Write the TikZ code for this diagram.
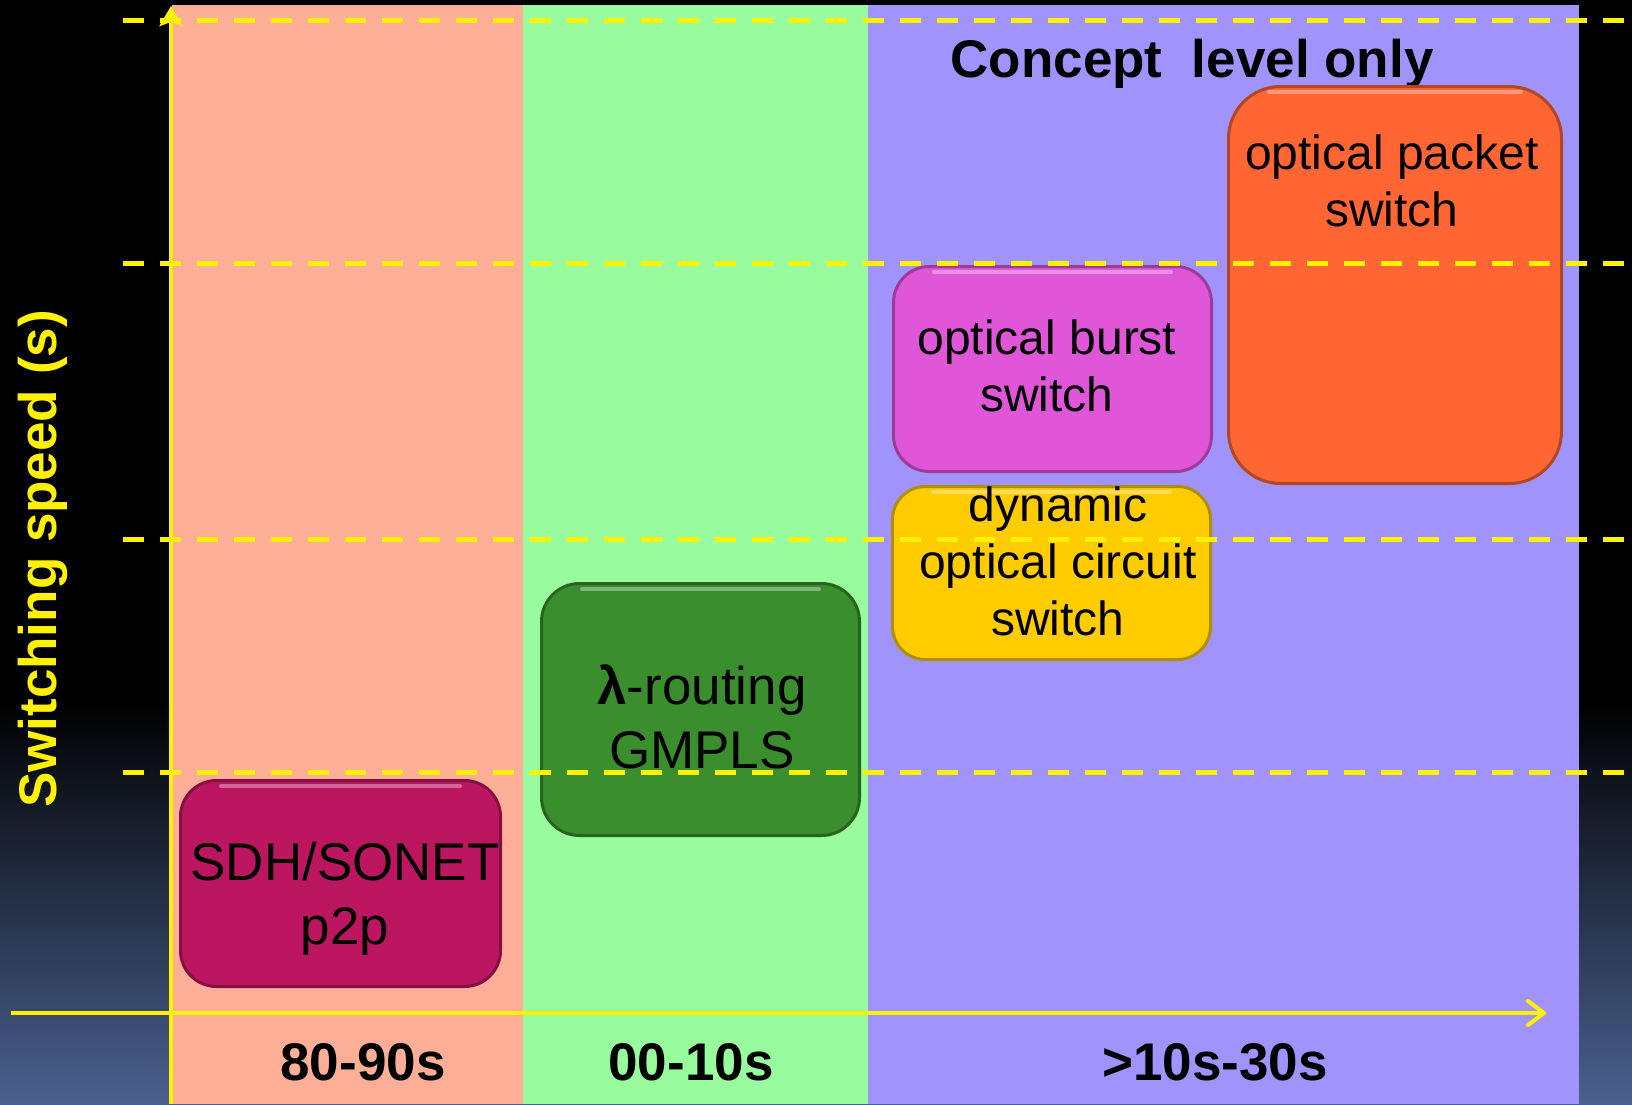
\documentclass[tikz,border=0pt]{standalone}
\usepackage{fontspec}
\setmainfont{Liberation Sans}
\usetikzlibrary{arrows.meta}
\definecolor{bgblue}{RGB}{74,96,142}
\definecolor{salmon}{RGB}{252,174,150}
\definecolor{mint}{RGB}{152,251,158}
\definecolor{lilac}{RGB}{161,147,252}
\definecolor{sdhred}{RGB}{188,22,96}
\definecolor{gmplsgreen}{RGB}{58,142,46}
\definecolor{burstpink}{RGB}{224,86,216}
\definecolor{circuitgold}{RGB}{255,204,0}
\definecolor{packetorange}{RGB}{255,102,51}
\tikzset{
    grid/.style={yellow,line width=5pt,dash pattern=on 21pt off 16pt},
    axis/.style={yellow,line width=4pt},
    yarrow/.style={axis,-{Stealth[length=20pt,width=23pt,inset=4pt]}},
    xarrow/.style={axis,-{Straight Barb[length=16pt,width=24pt,round]}},
    box/.style={rectangle,rounded corners=36pt,fill=#1,draw=#1!70!black,line width=3pt,inner sep=0pt},
    shine/.style={white,opacity=0.35,line width=4pt,line cap=round},
    boxtext/.style={align=center,inner sep=0pt,font=\fontsize{48}{57}\selectfont},
    title/.style={inner sep=0pt,font=\fontsize{53}{60}\selectfont\bfseries}
}
\begin{document}
\begin{tikzpicture}[x=1pt,y=-1pt]
\useasboundingbox(0,0)rectangle(1632,1104);
% background and bands
\fill[black](0,0)rectangle(1632,1104);
\shade[top color=black,bottom color=bgblue](0,700)rectangle(1632,1104);
\fill[salmon](172,5)rectangle(523,1104);
\fill[mint](523,5)rectangle(868,1104);
\fill[lilac](868,5)rectangle(1579,1104);

\node[title,anchor=base](concept)at(1192,77){Concept\ \ level only};

% switching technologies
\node[box=sdhred,minimum width=320pt,minimum height=206pt](sdh)at(340.5,883.5){};
\node[box=gmplsgreen,minimum width=318pt,minimum height=252pt,rounded corners=38pt](lambda)at(700.5,709.5){};
\node[box=burstpink,minimum width=318pt,minimum height=205pt](burst)at(1052.5,369){};
\node[box=circuitgold,minimum width=318pt,minimum height=173pt,rounded corners=33pt](dynamic)at(1051.5,573){};
\node[box=packetorange,minimum width=333pt,minimum height=397pt,rounded corners=52pt](packet)at(1395,285){};
\foreach \b in {sdh,lambda,burst,dynamic,packet}
    \draw[shine]([xshift=42pt,yshift=-7pt]\b.north west)--([xshift=-42pt,yshift=-7pt]\b.north east);

\node[boxtext,font=\fontsize{53}{64}\selectfont](sdhtext)at(345,899){SDH/SONET\\p2p};
\node[boxtext,font=\fontsize{53}{64}\selectfont](lambdatext)at(702,717){{\bfseries λ}-routing\\GMPLS};
\node[boxtext](bursttext)at(1047,366){optical burst\\switch};
\node[boxtext](dynamictext)at(1058,561){dynamic\\optical circuit\\switch};
\node[boxtext](packettext)at(1392,181){optical packet\\switch};

% axes
\coordinate(ybot)at(171,1104);
\coordinate(ytop)at(171,6);
\coordinate(xleft)at(11,1013);
\coordinate(xright)at(1546,1013);
\draw[yarrow](ybot)--(ytop);
\draw[xarrow](xleft)--(xright);
\node[title,yellow,rotate=90](ylabel)at(43,559){Switching speed (s)};
\node[title,anchor=base](era1)at(363,1080){80-90s};
\node[title,anchor=base](era2)at(691,1080){00-10s};
\node[title,anchor=base](era3)at(1215,1080){>10s-30s};

% speed levels
\foreach \y in {20,263,539,772}
    \draw[grid](123,\y)--(1627,\y);
\end{tikzpicture}
\end{document}
